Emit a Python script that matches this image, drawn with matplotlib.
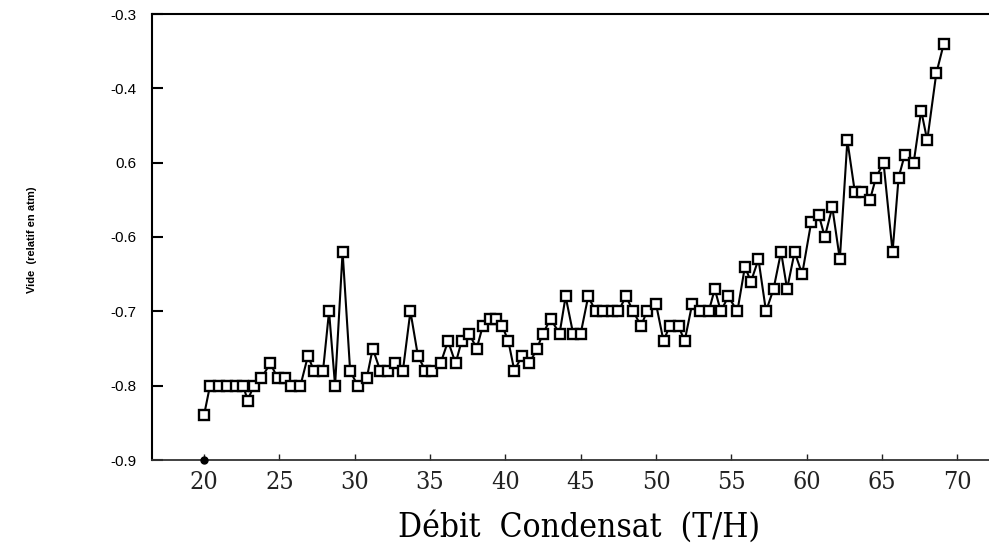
import matplotlib
matplotlib.use("Agg")
import matplotlib.pyplot as plt
from matplotlib import font_manager

# Condensate flow (T/H) and relative vacuum (atm)
debit = [20.0, 20.4, 21.0, 21.5, 22.1, 22.6, 22.9, 23.3, 23.8, 24.4,
         24.9, 25.4, 25.8, 26.4, 26.9, 27.3, 27.9, 28.3, 28.7, 29.2,
         29.7, 30.2, 30.8, 31.2, 31.7, 32.2, 32.7, 33.2, 33.7, 34.2,
         34.7, 35.1, 35.7, 36.2, 36.7, 37.1, 37.6, 38.1, 38.5, 39.0,
         39.4, 39.8, 40.2, 40.6, 41.1, 41.6, 42.1, 42.5, 43.0, 43.6,
         44.0, 44.5, 45.0, 45.5, 46.0, 46.5, 47.1, 47.5, 48.0, 48.5,
         49.0, 49.4, 50.0, 50.5, 50.9, 51.5, 51.9, 52.4, 52.9, 53.5,
         53.9, 54.3, 54.8, 55.4, 55.9, 56.3, 56.8, 57.3, 57.8, 58.3,
         58.7, 59.2, 59.7, 60.3, 60.8, 61.2, 61.7, 62.2, 62.7, 63.2,
         63.7, 64.2, 64.6, 65.1, 65.7, 66.1, 66.5, 67.1, 67.6, 68.0,
         68.6, 69.1]
vide = [-0.84, -0.80, -0.80, -0.80, -0.80, -0.80, -0.82, -0.80, -0.79, -0.77,
        -0.79, -0.79, -0.80, -0.80, -0.76, -0.78, -0.78, -0.70, -0.80, -0.62,
        -0.78, -0.80, -0.79, -0.75, -0.78, -0.78, -0.77, -0.78, -0.70, -0.76,
        -0.78, -0.78, -0.77, -0.74, -0.77, -0.74, -0.73, -0.75, -0.72, -0.71,
        -0.71, -0.72, -0.74, -0.78, -0.76, -0.77, -0.75, -0.73, -0.71, -0.73,
        -0.68, -0.73, -0.73, -0.68, -0.70, -0.70, -0.70, -0.70, -0.68, -0.70,
        -0.72, -0.70, -0.69, -0.74, -0.72, -0.72, -0.74, -0.69, -0.70, -0.70,
        -0.67, -0.70, -0.68, -0.70, -0.64, -0.66, -0.63, -0.70, -0.67, -0.62,
        -0.67, -0.62, -0.65, -0.58, -0.57, -0.60, -0.56, -0.63, -0.47, -0.54,
        -0.54, -0.55, -0.52, -0.50, -0.62, -0.52, -0.49, -0.50, -0.43, -0.47,
        -0.38, -0.34]

x_ticks = [20, 25, 30, 35, 40, 45, 50, 55, 60, 65, 70]
x_ticklabels = ["20", "25", "30", "35", "40", "45", "50", "55", "60", "65", "70"]
y_ticks = [-0.3, -0.4, -0.5, -0.6, -0.7, -0.8, -0.9]
y_ticklabels = ["-0.3", "-0.4", "0.6", "-0.6", "-0.7", "-0.8", "-0.9"]

# pick a condensed serif face for the x axis if one is installed
serif_family = "Liberation Serif"
serif_stretch = "normal"
for f in font_manager.fontManager.ttflist:
    if f.name == "DejaVu Serif" and "ondensed" in f.fname:
        serif_family = "DejaVu Serif"
        serif_stretch = "condensed"
        break

fig = plt.figure(figsize=(9.89, 5.56), dpi=100)
ax = fig.add_axes([152 / 989, 96 / 556, 1 - 152 / 989, (460 - 14) / 556])

ax.plot(debit, vide, color="black", lw=1.5, marker="s", markersize=6.5,
        markerfacecolor="white", markeredgecolor="black", markeredgewidth=1.7,
        zorder=3)

# small filled blot sitting on the x axis at the start of the range
ax.plot([20], [-0.9], marker="o", markersize=5, color="black",
        clip_on=False, zorder=4)

ax.set_xlim(16.55, 72.1)
ax.set_ylim(-0.9, -0.3)

ax.spines["right"].set_visible(False)
for side in ("left", "top"):
    ax.spines[side].set_linewidth(1.5)
    ax.spines[side].set_color("black")
ax.spines["bottom"].set_linewidth(1.3)
ax.spines["bottom"].set_color("#333333")

ax.set_yticks(y_ticks)
ax.set_yticklabels(y_ticklabels, family="Liberation Sans", fontsize=11)
ax.tick_params(axis="y", direction="in", length=8, width=1.5, pad=11)

ax.set_xticks(x_ticks)
ax.set_xticklabels(x_ticklabels, family=serif_family, stretch=serif_stretch,
                   fontsize=18)
ax.tick_params(axis="x", direction="in", length=4, width=1.0, pad=8,
               colors="#222222")

ax.set_xlabel("Débit  Condensat  (T/H)", family=serif_family,
              stretch=serif_stretch, fontsize=24)
ax.xaxis.set_label_coords((579 - 152) / 837, -0.115)

fig.text(32 / 989, 1 - 240 / 556, "Vide  (relatif en atm)", rotation=90,
         family="Liberation Sans", fontweight="bold", fontsize=8,
         ha="center", va="center")

fig.savefig("out.png", dpi=100, facecolor="white")
